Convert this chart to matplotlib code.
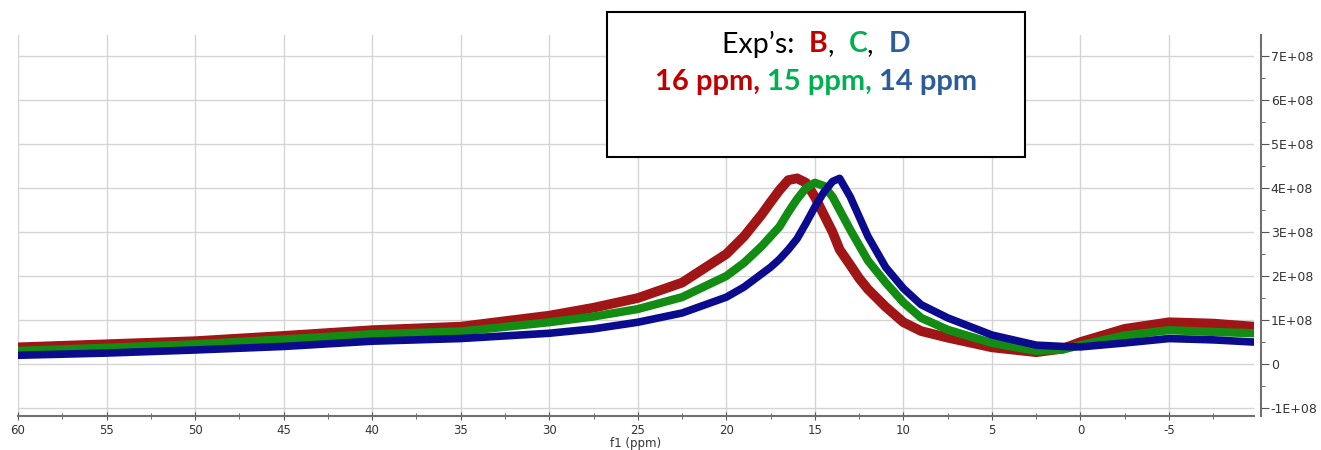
import matplotlib
matplotlib.use("Agg")
import matplotlib.pyplot as plt
from matplotlib.patches import Rectangle
from matplotlib.ticker import MultipleLocator

# ---- data ----
ppm = [60, 55, 50, 45, 40, 35, 30, 27.5, 25, 22.5, 20, 19, 18, 17.5, 17, 16.5, 16, 15.5,
       15, 14.5, 14, 13.6, 13, 12.5, 12, 11, 10, 9, 7.5, 5, 2.5, 1, 0, -2.5, -5, -7.5, -9.8]
exp_B = [0.38, 0.45, 0.52, 0.64, 0.77, 0.85, 1.10, 1.28, 1.50, 1.85, 2.50, 2.90, 3.40, 3.68,
         3.95, 4.18, 4.22, 4.12, 3.80, 3.40, 3.00, 2.60, 2.25, 1.95, 1.70, 1.30, 0.95, 0.75,
         0.60, 0.38, 0.27, 0.35, 0.50, 0.80, 0.95, 0.92, 0.85]
exp_C = [0.30, 0.37, 0.45, 0.56, 0.68, 0.74, 0.95, 1.08, 1.25, 1.52, 2.00, 2.30, 2.68, 2.90,
         3.12, 3.45, 3.75, 4.00, 4.12, 4.05, 3.80, 3.50, 3.05, 2.70, 2.35, 1.85, 1.40, 1.05,
         0.78, 0.48, 0.30, 0.33, 0.43, 0.65, 0.77, 0.73, 0.70]
exp_D = [0.20, 0.25, 0.32, 0.40, 0.52, 0.58, 0.70, 0.80, 0.95, 1.16, 1.52, 1.75, 2.05, 2.20,
         2.38, 2.60, 2.85, 3.20, 3.57, 3.90, 4.15, 4.22, 3.80, 3.35, 2.90, 2.20, 1.72, 1.35,
         1.05, 0.66, 0.43, 0.40, 0.39, 0.48, 0.58, 0.55, 0.50]
scale = 1e8

x_major = [60, 55, 50, 45, 40, 35, 30, 25, 20, 15, 10, 5, 0, -5]
y_major = [-1, 0, 1, 2, 3, 4, 5, 6, 7]

line1 = [("Exp’s:  ", "black", "normal"), ("B", "#C00000", "bold"), (",  ", "black", "normal"),
         ("C", "#00B050", "bold"), (",  ", "black", "normal"), ("D", "#2E5C9A", "bold")]
line2 = [("16 ppm, ", "#C00000", "bold"), ("15 ppm, ", "#00B050", "bold"),
         ("14 ppm", "#2E5C9A", "bold")]

# ---- figure ----
W, H = 1321, 450
fig = plt.figure(figsize=(W / 100, H / 100), dpi=100)
ax = fig.add_axes([18 / W, 1 - 416 / H, (1254 - 18) / W, (416 - 35) / H])

ax.plot(ppm, [v * scale for v in exp_B], color="#A01515", lw=7, solid_joinstyle="round", zorder=3)
ax.plot(ppm, [v * scale for v in exp_C], color="#138C13", lw=6, solid_joinstyle="round", zorder=4)
ax.plot(ppm, [v * scale for v in exp_D], color="#0B0B8E", lw=5.5, solid_joinstyle="round", zorder=5)

ax.set_xlim(60, -9.8)
ax.set_ylim(-1.18e8, 7.477e8)

ax.set_xticks(x_major)
ax.set_xticklabels([str(v) for v in x_major])
ax.xaxis.set_minor_locator(MultipleLocator(2.5))
ax.set_yticks([v * scale for v in y_major])
ax.set_yticklabels(["0" if v == 0 else f"{v}E+08" for v in y_major])
ax.yaxis.set_minor_locator(MultipleLocator(0.5e8))
ax.yaxis.tick_right()

ax.grid(True, which="major", color="#d4d4d4", lw=1.0, zorder=0)
ax.set_axisbelow(True)

for s in ["top", "left"]:
    ax.spines[s].set_visible(False)
ax.spines["bottom"].set_color("#707070")
ax.spines["bottom"].set_linewidth(1.5)
ax.spines["right"].set_color("#707070")
ax.spines["right"].set_linewidth(1.5)
ax.spines["right"].set_position(("outward", 5))

ax.tick_params(axis="x", which="major", direction="inout", length=6, color="#555555",
               labelsize=8.5, labelcolor="#333333", pad=3)
ax.tick_params(axis="x", which="minor", direction="inout", length=4, color="#555555")
ax.tick_params(axis="y", which="major", direction="out", length=6, color="#555555",
               labelsize=9, labelcolor="#333333", pad=1)
ax.tick_params(axis="y", which="minor", direction="out", length=3, color="#555555")

ax.set_xlabel("f1 (ppm)", fontsize=8.5, color="#333333", labelpad=0)

# ---- annotation box ----
box = Rectangle((607 / W, 1 - 157 / H), (1025 - 607) / W, (157 - 12) / H,
                transform=fig.transFigure, facecolor="white", edgecolor="black",
                lw=1.5, zorder=10)
fig.add_artist(box)

fig.canvas.draw()
renderer = fig.canvas.get_renderer()


def colored_line(parts, xc, yc, size):
    texts = []
    for s, c, w in parts:
        t = fig.text(0, yc, s, color=c, fontweight=w, fontsize=size, family="Lato",
                     va="center", ha="left", zorder=11)
        texts.append(t)
    widths = [t.get_window_extent(renderer).width for t in texts]
    total = sum(widths)
    x = xc * W - total / 2
    for t, wpx in zip(texts, widths):
        t.set_x(x / W)
        x += wpx


colored_line(line1, 816 / W, 1 - 44 / H, 20.5)
colored_line(line2, 816 / W, 1 - 82 / H, 21)

fig.savefig("out.png", dpi=100)
